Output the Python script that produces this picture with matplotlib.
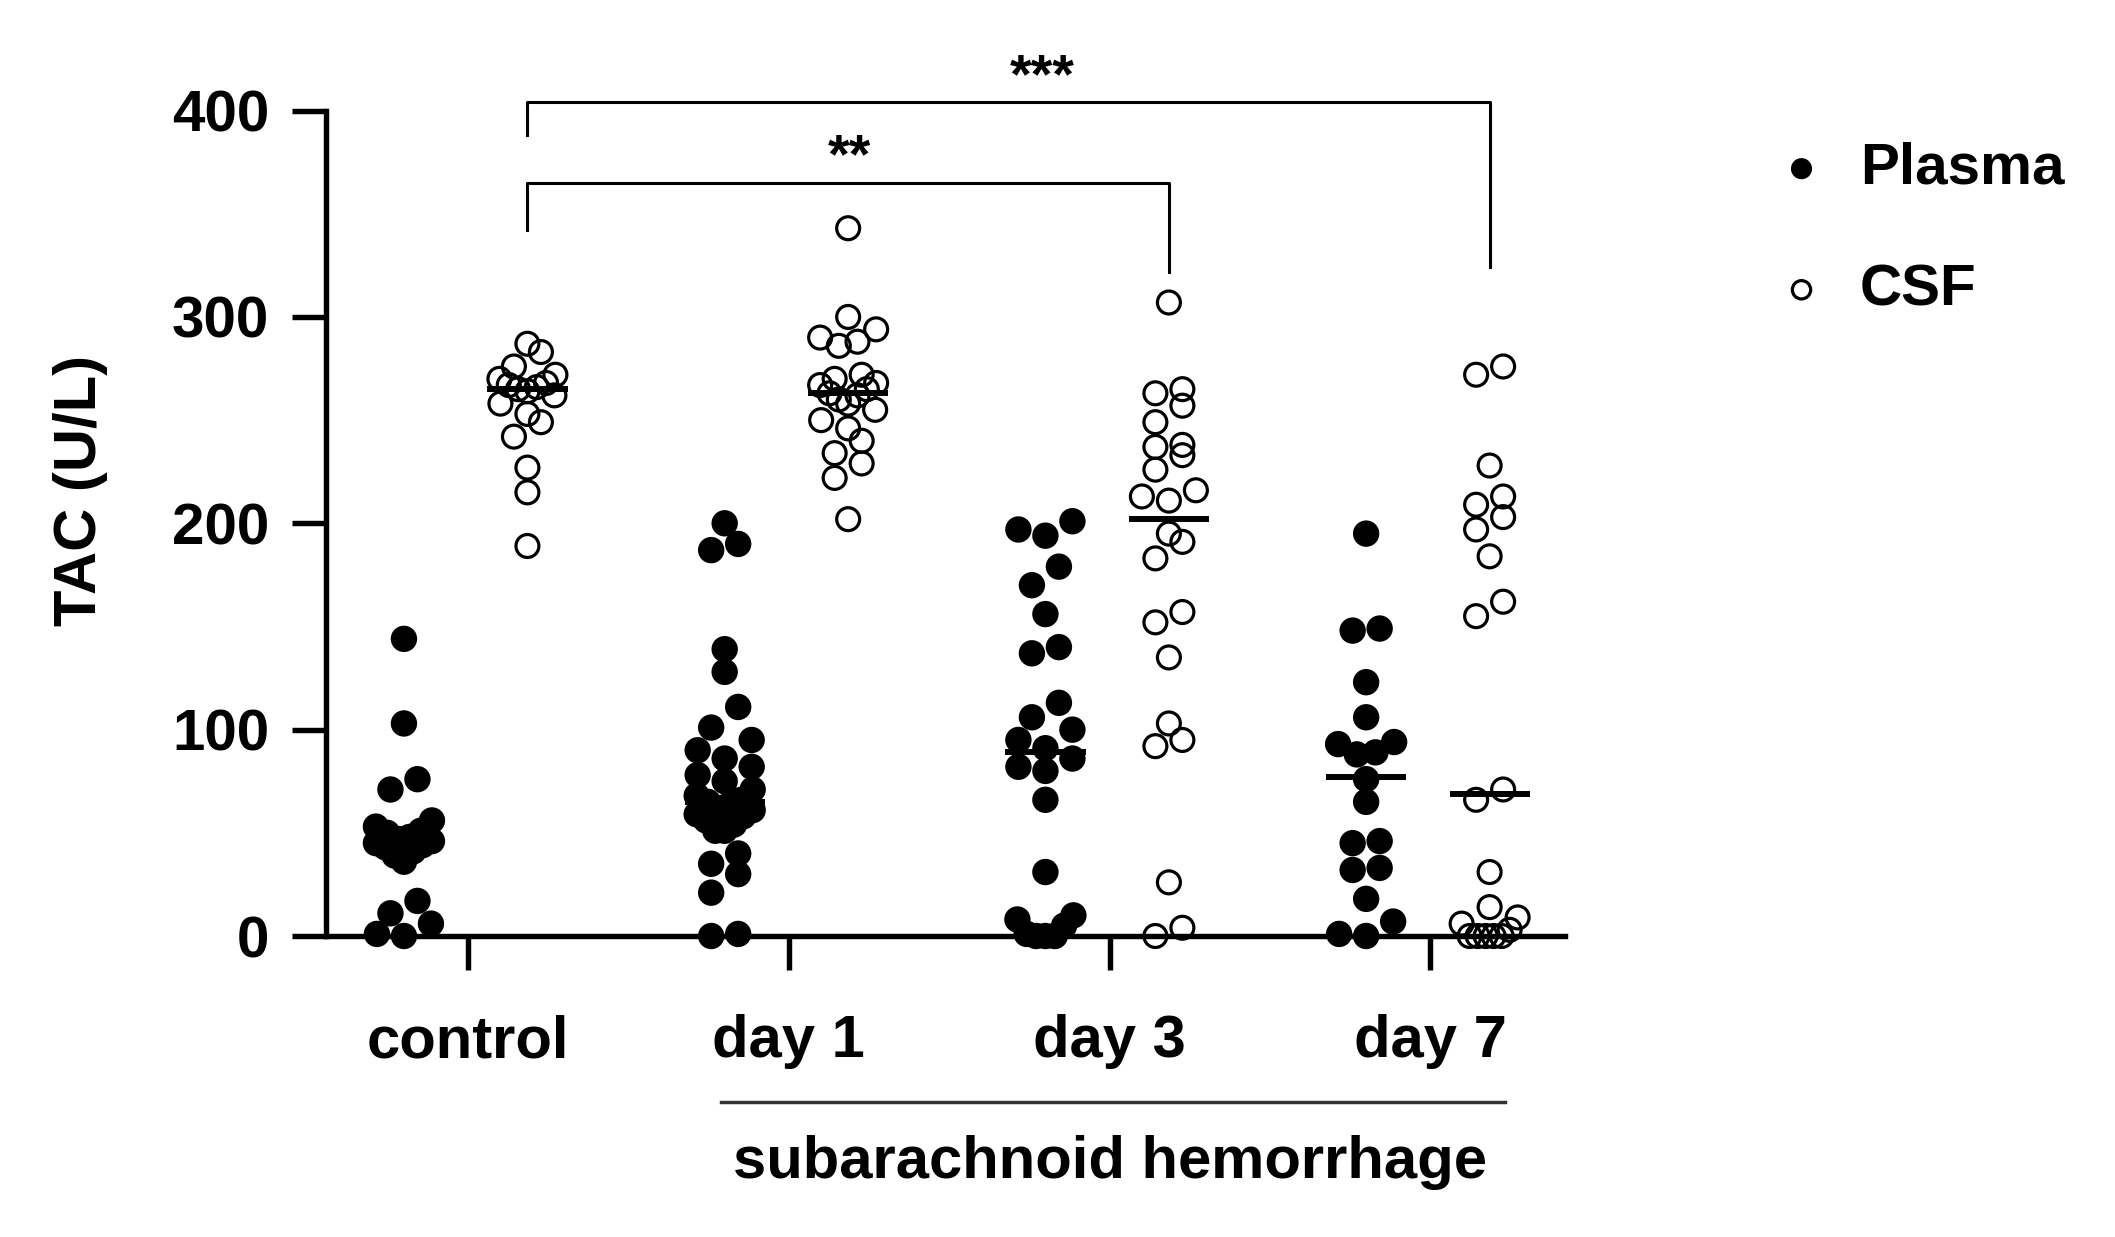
import numpy as np
import matplotlib.pyplot as plt

plt.rcParams["font.family"] = ["Liberation Sans", "DejaVu Sans"]
plt.rcParams["font.weight"] = "bold"

# Data (TAC, U/L)
groups = ["control", "day 1", "day 3", "day 7"]

plasma_control = [144, 103, 76, 71, 56, 53, 51, 50, 48, 47, 46, 45, 44, 43,
                  41, 39, 36, 17, 11, 6, 1, 0]
plasma_day1 = [200, 190, 187, 139, 128, 111, 101, 95, 90, 86, 82, 78, 75, 71,
               68, 66, 65, 64, 62, 61, 59, 58, 56, 54, 51, 51, 40, 35, 30, 21,
               1, 0]
plasma_day3 = [201, 197, 194, 179, 170, 156, 140, 137, 113, 106, 100, 95, 91,
               86, 82, 80, 66, 31, 10, 8, 5, 1, 0, 0, 0]
plasma_day7 = [195, 149, 148, 123, 106, 94, 93, 89, 88, 76, 65, 46, 45, 33,
               32, 18, 7, 1, 0]

csf_control = [287, 283, 276, 272, 270, 268, 267, 266, 265, 264, 262, 258,
               253, 249, 242, 227, 215, 189]
csf_day1 = [343, 300, 294, 290, 288, 286, 272, 270, 268, 267, 265, 263, 262,
            260, 258, 255, 250, 246, 240, 234, 229, 222, 202]
csf_day3 = [307, 265, 263, 257, 249, 238, 237, 233, 226, 216, 213, 211, 195,
            191, 183, 157, 152, 135, 103, 95, 92, 26, 4, 0]
csf_day7 = [276, 272, 228, 213, 209, 203, 197, 184, 162, 155, 71, 66, 31, 14,
            9, 6, 3, 0, 0, 0, 0, 0]

plasma = [plasma_control, plasma_day1, plasma_day3, plasma_day7]
csf = [csf_control, csf_day1, csf_day3, csf_day7]

plasma_medians = [45, 65, 89, 77]
csf_medians = [265, 263, 202, 69]

y_ticks = [0, 100, 200, 300, 400]

# significance brackets: (from group, to group, bar height, left drop, right drop, label, label x)
brackets = [
    (0, 2, 365, 342, 322, "**", 1.19),
    (0, 3, 404, 388, 324, "***", 1.79),
]


def swarm_offsets(values, ypx, row_px=22, step_px=27, max_span_px=56):
    """GraphPad-like scatter: bin points into rows and spread them sideways."""
    order = np.argsort(values, kind="stable")
    offsets = np.zeros(len(values))
    rows, cur = [], [order[0]]
    for idx in order[1:]:
        if ypx[idx] - ypx[cur[0]] < row_px:
            cur.append(idx)
        else:
            rows.append(cur)
            cur = [idx]
    rows.append(cur)
    for row in rows:
        n = len(row)
        step = step_px if n < 2 else min(step_px, max_span_px / (n - 1))
        pos = (np.arange(n) - (n - 1) / 2) * step
        pos = pos[np.argsort(np.abs(pos), kind="stable")]
        for idx, p in zip(row, pos):
            offsets[idx] = p
    return offsets


W, H = 2115, 1237
fig = plt.figure(figsize=(W / 100, H / 100), dpi=100)
ax = fig.add_axes([326 / W, 1 - 936 / H, (1565 - 326) / W, (936 - 110.6) / H])
ax.set_xlim(-0.443, 3.42)
ax.set_ylim(0, 400)

pos = np.arange(len(groups))
p_off, c_off = -0.2, 0.185

# pixel scale of the data axes, used for the swarm layout
x_px = ax.transData.transform((1, 0))[0] - ax.transData.transform((0, 0))[0]

for i in range(len(groups)):
    for vals, off, kind in ((plasma[i], p_off, "p"), (csf[i], c_off, "c")):
        v = np.asarray(vals, float)
        ypx = ax.transData.transform(np.column_stack([np.zeros_like(v), v]))[:, 1]
        dx = swarm_offsets(v, ypx) / x_px
        x = pos[i] + off + dx
        if kind == "p":
            sc_p = ax.scatter(x, v, s=19 ** 2, c="black", edgecolors="none",
                              clip_on=False, zorder=3)
        else:
            sc_c = ax.scatter(x, v, s=16.5 ** 2, facecolors="none",
                              edgecolors="black", linewidths=2.3,
                              clip_on=False, zorder=3)

# median lines
for i in range(len(groups)):
    for m, off in ((plasma_medians[i], p_off), (csf_medians[i], c_off)):
        ax.plot([pos[i] + off - 0.125, pos[i] + off + 0.125], [m, m],
                color="black", lw=4.3, solid_capstyle="butt", zorder=4)

# significance brackets
for g0, g1, top, d0, d1, label, lx in brackets:
    x0, x1 = pos[g0] + c_off, pos[g1] + c_off
    ax.plot([x0, x0, x1, x1], [d0, top, top, d1], color="black", lw=2.2,
            clip_on=False, zorder=4)
    ax.text(lx, top + 5, label, ha="center", va="baseline", fontsize=40,
            fontweight="bold")

# axes styling
for side in ("top", "right"):
    ax.spines[side].set_visible(False)
for side in ("left", "bottom"):
    ax.spines[side].set_linewidth(3.9)
ax.set_yticks(y_ticks)
ax.set_xticks(pos)
ax.set_xticklabels(groups)
ax.tick_params(axis="both", length=24.5, width=3.9)
ax.tick_params(axis="x", pad=32, labelsize=43)
ax.tick_params(axis="y", pad=16.5, labelsize=42)

fig.text(80 / W, 1 - 490 / H, "TAC (U/L)", rotation=90, ha="center",
         va="center", fontsize=43, fontweight="bold")

# group bracket under the SAH days
tr = ax.get_xaxis_transform()
ax.plot([0.789, 3.234], [-0.2011, -0.2011], transform=tr, color="#333333",
        lw=2.5, clip_on=False)
ax.text(2.002, -0.293, "subarachnoid hemorrhage", transform=tr, ha="center",
        va="baseline", fontsize=43, fontweight="bold")

ax.legend([sc_p, sc_c], ["Plasma", "CSF"], loc="upper left",
          bbox_to_anchor=(1784 / W, 1 - 142 / H), bbox_transform=fig.transFigure,
          frameon=False, fontsize=42, handlelength=0.6, handletextpad=0.7,
          labelspacing=1.15, borderpad=0, borderaxespad=0, scatterpoints=1,
          markerscale=0.8)

fig.savefig("out.png", dpi=100, facecolor="white")
